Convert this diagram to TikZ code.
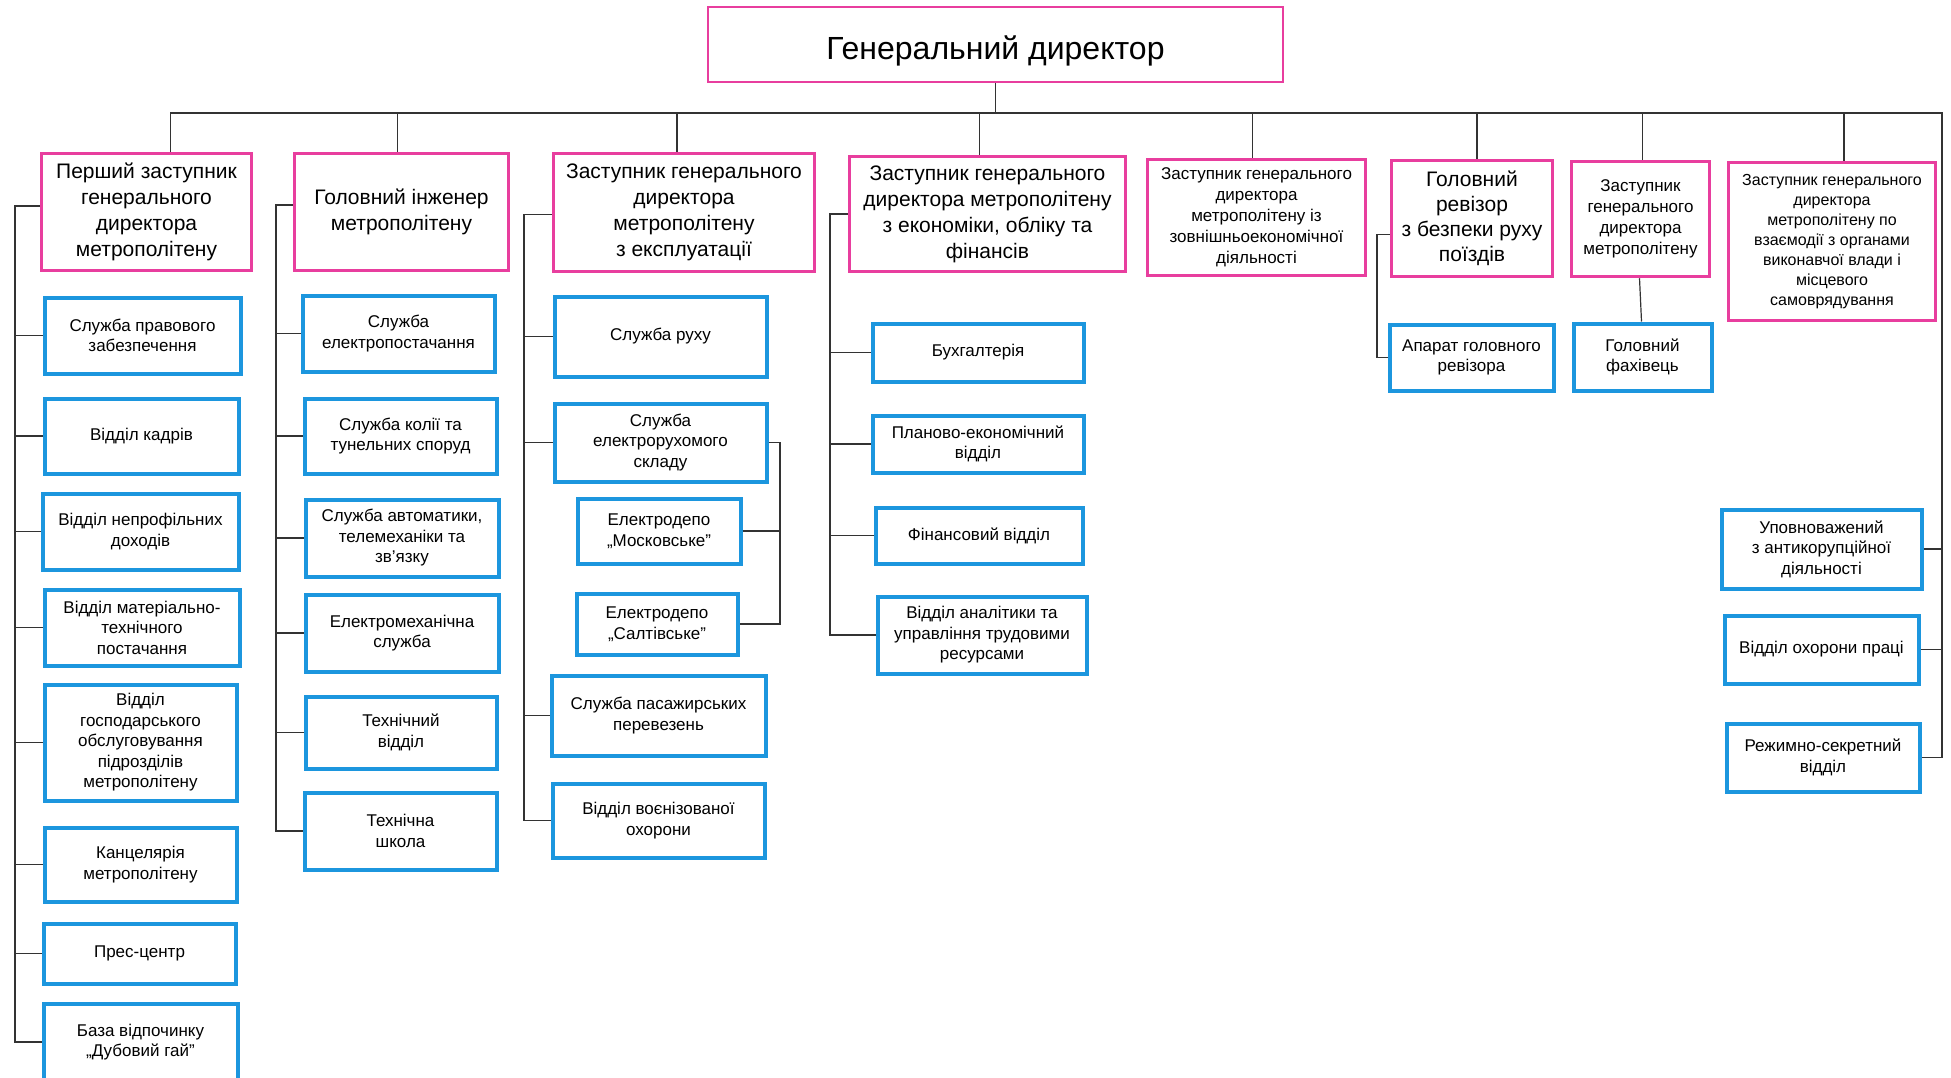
\documentclass[tikz,border=0pt]{standalone}
\usepackage{fontspec}
\setmainfont{Liberation Sans}
\usepackage{xcolor}
\usepackage{tikz}
\definecolor{orgpink}{RGB}{232,62,158}
\definecolor{orgblue}{RGB}{28,150,222}

\begin{document}
\begin{tikzpicture}[x=1pt,y=-1pt,
  chief/.style={draw=orgpink, line width=3.5pt, fill=white, align=center, inner sep=0pt},
  unit/.style={draw=orgblue, line width=4pt, fill=white, align=center, inner sep=0pt, font=\fontsize{17}{20.5}\selectfont},
  sz/.style 2 args={minimum width=#1pt, minimum height=#2pt},
  link/.style={draw=black!80, line width=1.2pt}]
\path[use as bounding box, fill=white] (0,0) rectangle (1951,1078);
\clip (0,0) rectangle (1951,1078);

% Top
\node[chief, line width=2.5pt, sz={575}{75}, font=\fontsize{32}{38}\selectfont] (gd) at (995.5,44.5) {\rule{0pt}{37pt}Генеральний директор};

% Level 1
\node[chief, sz={210}{117}, font=\fontsize{21}{26}\selectfont] (p1) at (146.5,212) {Перший заступник\\генерального\\директора\\метрополітену};
\node[chief, sz={214}{117}, font=\fontsize{21}{26}\selectfont] (p2) at (401.5,212) {Головний інженер\\метрополітену};
\node[chief, sz={261}{118}, font=\fontsize{21}{26}\selectfont] (p3) at (684,212.5) {Заступник генерального\\директора\\метрополітену\\з експлуатації};
\node[chief, sz={276}{115}, font=\fontsize{21}{26}\selectfont] (p4) at (987.5,214) {Заступник генерального\\директора метрополітену\\з економіки, обліку та\\фінансів};
\node[chief, sz={218}{116}, font=\fontsize{17}{21}\selectfont] (p5) at (1256.5,217.5) {Заступник генерального\\директора\\метрополітену із\\зовнішньоекономічної\\діяльності};
\node[chief, sz={161}{116}, font=\fontsize{21}{25}\selectfont] (p6) at (1472,218.5) {Головний\\ревізор\\з безпеки руху\\поїздів};
\node[chief, sz={138}{115}, font=\fontsize{17}{21}\selectfont] (p7) at (1640.5,219) {Заступник\\генерального\\директора\\метрополітену};
\node[chief, sz={207}{158}, font=\fontsize{16}{20}\selectfont] (p8) at (1832,241.5) {Заступник генерального\\директора\\метрополітену по\\взаємодії з органами\\виконавчої влади і\\місцевого\\самоврядування};

% Column 1
\node[unit, sz={196}{76}] (a1) at (142.5,335.5) {Служба правового\\забезпечення};
\node[unit, sz={194}{75}] (b1) at (141.5,436) {Відділ кадрів};
\node[unit, sz={196}{76}] (c1) at (140.5,531.5) {Відділ непрофільних\\доходів};
\node[unit, sz={195}{76}] (d1) at (142,627.5) {Відділ матеріально-\\технічного\\постачання};
\node[unit, sz={192}{116}] (e1) at (140.5,742.5) {Відділ\\господарського\\обслуговування\\підрозділів\\метрополітену};
\node[unit, sz={192}{74}] (f1) at (140.5,864.5) {Канцелярія\\метрополітену};
\node[unit, sz={192}{60}] (g1) at (139.5,953.5) {Прес-центр};
\node[unit, sz={194}{76}] (h1) at (140.5,1042) {База відпочинку\\„Дубовий гай”};

% Column 2
\node[unit, sz={192}{76}] (a2) at (398.5,333.5) {Служба\\електропостачання};
\node[unit, sz={192}{75}] (b2) at (400.5,436) {Служба колії та\\тунельних споруд};
\node[unit, sz={193}{77}] (c2) at (402,538) {Служба автоматики,\\телемеханіки та\\зв’язку};
\node[unit, sz={193}{77}] (d2) at (402,633) {Електромеханічна\\служба};
\node[unit, sz={191}{72}] (e2) at (401,732.5) {Технічний\\відділ};
\node[unit, sz={192}{77}] (f2) at (400.5,831) {Технічна\\школа};

% Column 3
\node[unit, sz={212}{80}] (a3) at (660.5,336.5) {Служба руху};
\node[unit, sz={212}{78}] (b3) at (660.5,442.5) {Служба\\електрорухомого\\складу};
\node[unit, sz={163}{65}] (c3) at (659,531) {Електродепо\\„Московське”};
\node[unit, sz={161}{61}] (d3) at (657,624) {Електродепо\\„Салтівське”};
\node[unit, sz={214}{80}] (e3) at (658.5,715.5) {Служба пасажирських\\перевезень};
\node[unit, sz={212}{74}] (f3) at (658.5,820.5) {Відділ воєнізованої\\охорони};

% Column 4
\node[unit, sz={211}{58}] (a4) at (978,352.5) {Бухгалтерія};
\node[unit, sz={211}{57}] (b4) at (978,444) {Планово-економічний\\відділ};
\node[unit, sz={207}{56}] (c4) at (979,535.5) {Фінансовий відділ};
\node[unit, sz={209}{77}] (d4) at (982,635) {Відділ аналітики та\\управління трудовими\\ресурсами};

% Columns 6, 7, 8
\node[unit, sz={164}{66}] (a6) at (1471.5,357.5) {Апарат головного\\ревізора};
\node[unit, sz={138}{67}] (a7) at (1642.5,357) {Головний\\фахівець};
\node[unit, sz={200}{79}] (a8) at (1821.5,549) {Уповноважений\\з антикорупційної\\діяльності};
\node[unit, sz={194}{68}] (b8) at (1821.5,649.5) {Відділ охорони праці};
\node[unit, sz={193}{68}] (c8) at (1823,757.5) {Режимно-секретний\\відділ};

% Spines
\coordinate (bus) at (0,113);
\coordinate (s1) at (15,0);
\coordinate (s2) at (276,0);
\coordinate (s3) at (524,0);
\coordinate (s3r) at (780,0);
\coordinate (s4) at (830,0);
\coordinate (s6) at (1377,0);
\coordinate (s8) at (1942,0);

% Top bus
\draw[link] (gd.south) -- (gd.south |- bus);
\draw[link] ([xshift=24pt]p1.north) -- ([xshift=24pt]p1.north |- bus) -- (bus -| s8) -- (c8.east -| s8) -- (c8.east);
\foreach \n/\dx in {p2/-4,p3/-7,p4/-8,p5/-4,p6/5,p7/2,p8/12}
  \draw[link] ([xshift=\dx pt]\n.north) -- ([xshift=\dx pt]\n.north |- bus);
\foreach \n in {a8,b8}
  \draw[link] (\n.east) -- (\n.east -| s8);

% Column 1
\draw[link] ([yshift=6pt]p1.west) -- ([yshift=6pt]p1.west -| s1) -- (h1.west -| s1) -- (h1.west);
\foreach \n in {a1,b1,c1,d1,e1,f1,g1}
  \draw[link] (\n.west -| s1) -- (\n.west);

% Column 2
\draw[link] ([yshift=7pt]p2.west) -- ([yshift=7pt]p2.west -| s2) -- (f2.west -| s2) -- (f2.west);
\foreach \n in {a2,b2,c2,d2,e2}
  \draw[link] (\n.west -| s2) -- (\n.west);

% Column 3
\draw[link] ([yshift=-2pt]p3.west) -- ([yshift=-2pt]p3.west -| s3) -- (f3.west -| s3) -- (f3.west);
\foreach \n in {a3,b3,e3}
  \draw[link] (\n.west -| s3) -- (\n.west);
\draw[link] (b3.east) -- (b3.east -| s3r) -- (d3.east -| s3r) -- (d3.east);
\draw[link] (c3.east) -- (c3.east -| s3r);

% Column 4
\draw[link] (p4.west) -- (p4.west -| s4) -- (d4.west -| s4) -- (d4.west);
\foreach \n in {a4,b4,c4}
  \draw[link] (\n.west -| s4) -- (\n.west);

% Columns 6, 7
\draw[link] ([yshift=-16pt]p6.west) -- ([yshift=-16pt]p6.west -| s6) -- (a6.west -| s6) -- (a6.west);
\draw[link] ([xshift=-1pt]p7.south) -- ([xshift=-1pt]a7.north);
\end{tikzpicture}
\end{document}
